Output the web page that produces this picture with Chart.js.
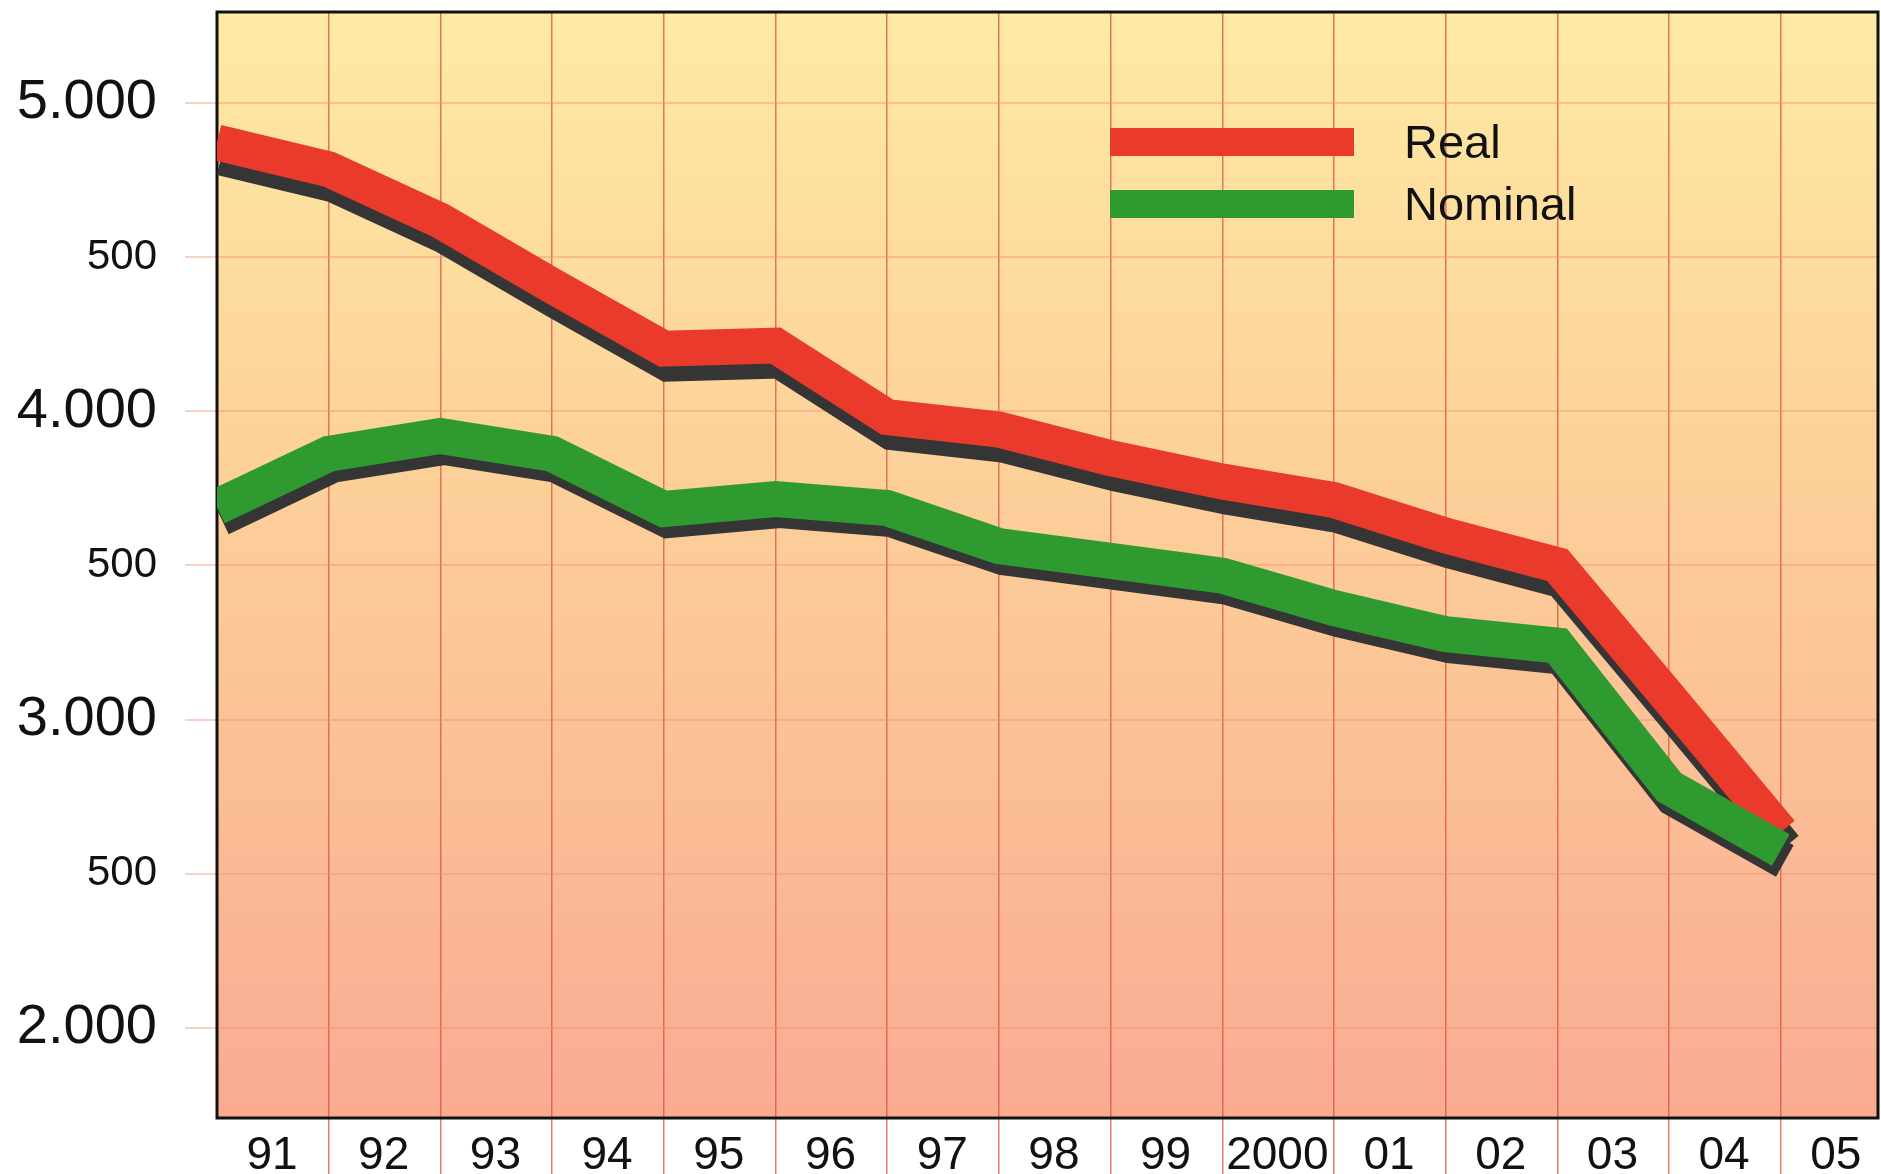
<!DOCTYPE html>
<html>
<head>
<meta charset="utf-8">
<script src="https://cdn.jsdelivr.net/npm/chart.js@4/dist/chart.umd.min.js"></script>
<style>
  html, body { margin: 0; padding: 0; background: #fff; }
  #wrap { position: relative; width: 1881px; height: 1174px; }
  #legend { position: absolute; left: 1110px; top: 117px; font-family: "Liberation Sans", Arial, sans-serif; font-size: 47px; color: #111; }
  .item { position: absolute; left: 0; width: 480px; height: 50px; }
  .sw { position: absolute; left: 0; width: 244px; height: 28px; top: 11px; }
  .lb { position: absolute; left: 294px; top: 0; line-height: 50px; white-space: nowrap; }
</style>
</head>
<body>
<div id="wrap">
  <canvas id="c" width="1881" height="1174"></canvas>
  <div id="legend"></div>
</div>
<script>
// ---- data ----
const yearLabels = ["91","92","93","94","95","96","97","98","99","2000","01","02","03","04","05"];
const realValues = [4872, 4785, 4618, 4407, 4203, 4213, 3981, 3941, 3848, 3772, 3712, 3597, 3501, 3070, 2635];
const nominalValues = [3690, 3862, 3920, 3862, 3683, 3715, 3686, 3563, 3515, 3467, 3362, 3277, 3240, 2781, 2577];
const yTickValues = [2000, 2500, 3000, 3500, 4000, 4500, 5000];
const seriesNames = ["Real", "Nominal"];
const seriesColors = ["#ea3a2b", "#2f9a2f"];

const toPoints = arr => arr.map((v, i) => ({ x: i, y: v }));

// legend (HTML)
const legendEl = document.getElementById('legend');
seriesNames.forEach((name, i) => {
  const it = document.createElement('div');
  it.className = 'item';
  it.style.top = (i * 62) + 'px';
  const sw = document.createElement('div');
  sw.className = 'sw';
  sw.style.background = seriesColors[i];
  const lb = document.createElement('div');
  lb.className = 'lb';
  lb.textContent = name;
  it.appendChild(sw); it.appendChild(lb);
  legendEl.appendChild(it);
});

const bgPlugin = {
  id: 'bg',
  beforeDraw(chart) {
    const { ctx, chartArea: a } = chart;
    ctx.save();
    ctx.fillStyle = '#ffffff';
    ctx.fillRect(0, 0, chart.width, chart.height);
    const g = ctx.createLinearGradient(0, a.top, 0, a.bottom);
    g.addColorStop(0, '#feeaa3');
    g.addColorStop(0.5, '#fccb98');
    g.addColorStop(1, '#f9ab92');
    ctx.fillStyle = g;
    ctx.fillRect(a.left, a.top, a.right - a.left, a.bottom - a.top);
    ctx.restore();
  },
  beforeDatasetsDraw(chart) {
    const { ctx, chartArea: a } = chart;
    ctx.save();
    ctx.strokeStyle = '#111';
    ctx.lineWidth = 3;
    ctx.strokeRect(a.left, a.top, a.right - a.left, a.bottom - a.top);
    ctx.restore();
  }
};

const shadowPlugin = {
  id: 'shadow',
  beforeDatasetDraw(chart, args) {
    const ds = chart.data.datasets[args.index];
    const ctx = chart.ctx;
    ctx.save();
    ctx.shadowColor = '#353535';
    ctx.shadowBlur = 0;
    ctx.shadowOffsetX = 4;
    ctx.shadowOffsetY = ds.shadowY || 12;
  },
  afterDatasetDraw(chart) {
    chart.ctx.restore();
  }
};

new Chart(document.getElementById('c'), {
  type: 'line',
  data: {
    datasets: [
      {
        label: seriesNames[0],
        data: toPoints(realValues),
        borderColor: seriesColors[0],
        backgroundColor: seriesColors[0],
        borderWidth: 36,
        borderJoinStyle: 'miter',
        borderCapStyle: 'butt',
        pointRadius: 0,
        tension: 0,
        order: 2,
        shadowY: 15
      },
      {
        label: seriesNames[1],
        data: toPoints(nominalValues),
        borderColor: seriesColors[1],
        backgroundColor: seriesColors[1],
        borderWidth: 36,
        borderJoinStyle: 'miter',
        borderCapStyle: 'butt',
        pointRadius: 0,
        tension: 0,
        order: 1,
        shadowY: 11
      }
    ]
  },
  options: {
    responsive: false,
    animation: false,
    devicePixelRatio: 1,
    layout: { padding: { top: 12, right: 3, left: 0, bottom: 0 } },
    plugins: { legend: { display: false }, tooltip: { enabled: false } },
    scales: {
      x: {
        type: 'linear',
        position: 'bottom',
        min: 0,
        max: 14.87,
        afterBuildTicks: s => { s.ticks = yearLabels.map((_, i) => ({ value: i })); },
        afterFit: s => { s.height = 56; s.paddingLeft = 0; s.paddingRight = 0; },
        border: { display: false },
        grid: {
          color: c => (c.index === 0 ? 'rgba(0,0,0,0)' : 'rgba(222,80,60,0.75)'),
          lineWidth: 1.5,
          tickLength: 56,
          drawOnChartArea: true
        },
        ticks: {
          autoSkip: false,
          maxRotation: 0,
          minRotation: 0,
          labelOffset: 55,
          padding: -45,
          color: '#111',
          font: { family: 'Liberation Sans', size: 46 },
          callback: (v, i) => yearLabels[i]
        }
      },
      y: {
        type: 'linear',
        position: 'left',
        min: 1708,
        max: 5295,
        afterBuildTicks: s => { s.ticks = yTickValues.map(v => ({ value: v })); },
        afterFit: s => { s.width = 217; s.paddingTop = 0; s.paddingBottom = 0; },
        border: { display: false },
        grid: {
          color: 'rgba(240,140,110,0.4)',
          lineWidth: 2,
          tickLength: 32
        },
        ticks: {
          padding: 28,
          color: '#111',
          font: c => ({ family: 'Liberation Sans', size: (c.tick && c.tick.value % 1000 === 0) ? 56 : 42 }),
          callback: v => (v % 1000 === 0 ? (v / 1000) + '.000' : '500')
        }
      }
    }
  },
  plugins: [bgPlugin, shadowPlugin]
});
</script>
</body>
</html>
